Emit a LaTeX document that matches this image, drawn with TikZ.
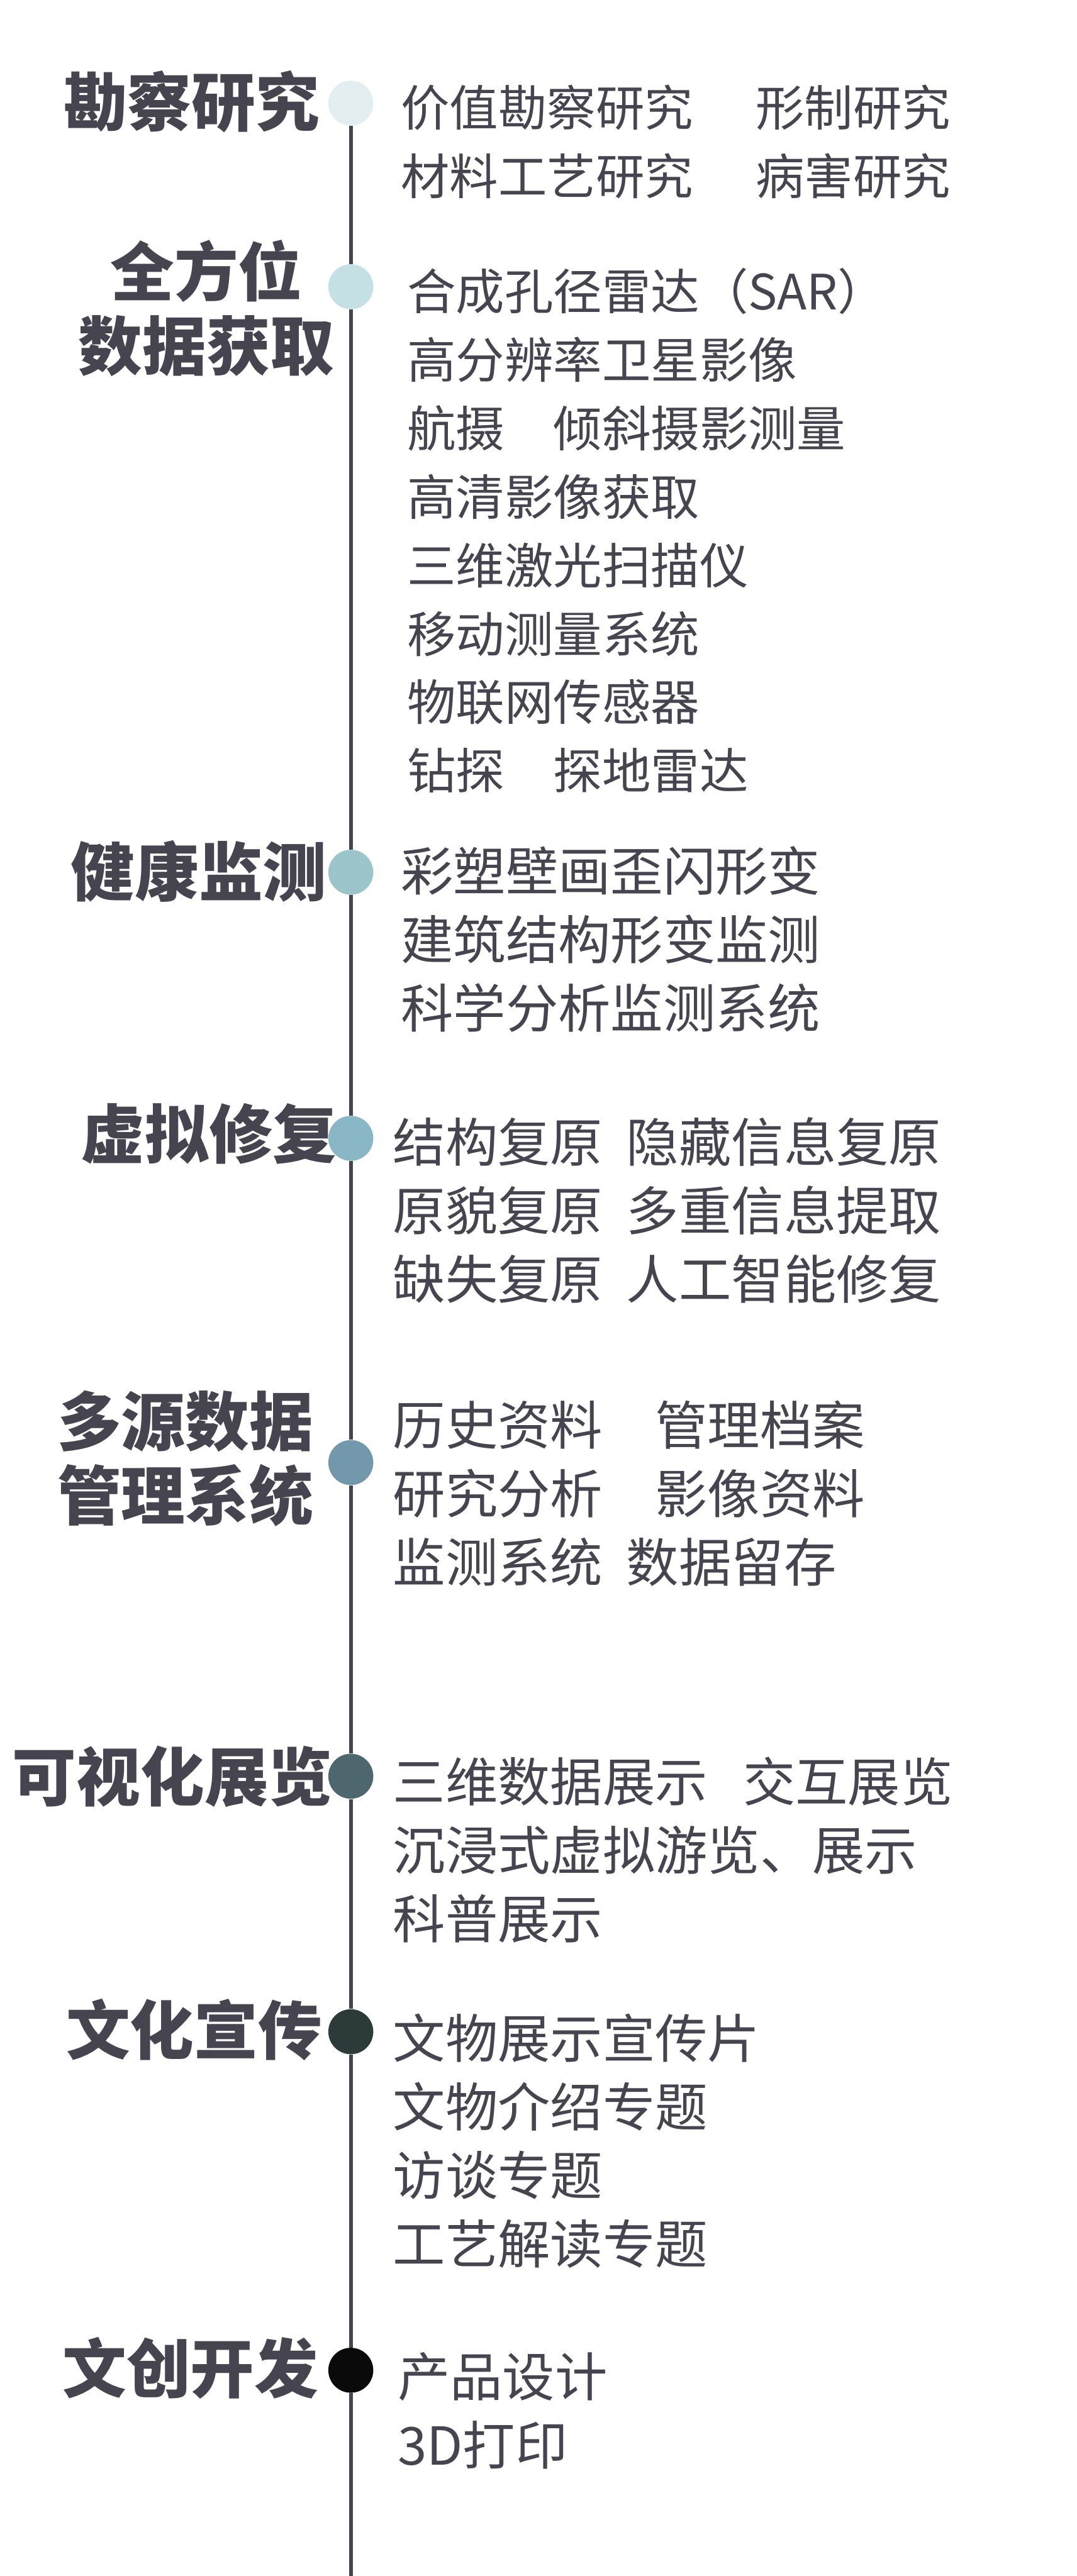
\documentclass[tikz,border=0pt]{standalone}
\usepackage{fontspec}
\setmainfont{Noto Sans CJK SC}
\usepackage{xcolor}
\definecolor{ink}{HTML}{46444F}
\definecolor{c1}{HTML}{E2EEF0}
\definecolor{c2}{HTML}{C5E0E4}
\definecolor{c3}{HTML}{9BC4CB}
\definecolor{c4}{HTML}{8AB7C6}
\definecolor{c5}{HTML}{7397AB}
\definecolor{c6}{HTML}{4E666E}
\definecolor{c7}{HTML}{2D3A3A}
\definecolor{c8}{HTML}{0A0A0A}
\tikzset{
    pt/.style={circle, inner sep=0pt, minimum size=0.85cm},
    axis/.style={draw=ink, line width=0.07cm},
    head/.style={inner sep=0pt, align=center, text=ink, font=\fontsize{34.4pt}{40pt}\selectfont\bfseries},
    item/.style={anchor=west, inner sep=0pt, align=left, text=ink, font=\fontsize{28.2pt}{36.85pt}\selectfont},
    itemsm/.style={item, font=\fontsize{26.2pt}{36.85pt}\selectfont}
}

\begin{document}
\begin{tikzpicture}
        \useasboundingbox (0,0) rectangle (20.35,-48.70);
        \node[pt, fill=c1] (d1) at (6.63,-1.95) {};
        \node[pt, fill=c2] (d2) at (6.63,-5.42) {};
        \node[pt, fill=c3] (d3) at (6.63,-16.49) {};
        \node[pt, fill=c4] (d4) at (6.63,-21.52) {};
        \node[pt, fill=c5] (d5) at (6.63,-27.65) {};
        \node[pt, fill=c6] (d6) at (6.63,-33.58) {};
        \node[pt, fill=c7] (d7) at (6.63,-38.41) {};
        \node[pt, fill=c8] (d8) at (6.63,-44.81) {};
        \coordinate (bot) at (6.63,-48.70);

        \draw[axis] (d1) -- (d2) (d2) -- (d3) (d3) -- (d4) (d4) -- (d5)
            (d5) -- (d6) (d6) -- (d7) (d7) -- (d8) (d8) -- (bot);

        \node[head] (h1) at (3.62,-1.92) {勘察研究};
        \node[head] (h2) at (3.90,-5.83) {全方位\\数据获取};
        \node[head] (h3) at (3.76,-16.47) {健康监测};
        \node[head] (h4) at (3.95,-21.44) {虚拟修复};
        \node[head] (h5) at (3.50,-27.57) {多源数据\\管理系统};
        \node[head] (h6) at (3.26,-33.59) {可视化展览};
        \node[head] (h7) at (3.67,-38.37) {文化宣传};
        \node[head] (h8) at (3.60,-44.77) {文创开发};

        \node[itemsm] (t1) at (7.57,-2.68) {价值勘察研究\hspace{1.18cm}形制研究\\材料工艺研究\hspace{1.18cm}病害研究};
        \node[itemsm] (t2) at (7.69,-10.03) {合成孔径雷达（SAR）\\高分辨率卫星影像\\航摄　倾斜摄影测量\\高清影像获取\\三维激光扫描仪\\移动测量系统\\物联网传感器\\钻探　探地雷达};
        \node[item] (t3) at (7.57,-17.76) {彩塑壁画歪闪形变\\建筑结构形变监测\\科学分析监测系统};
        \node[item] (t4) at (7.42,-22.88) {结构复原\hspace{0.45cm}隐藏信息复原\\原貌复原\hspace{0.45cm}多重信息提取\\缺失复原\hspace{0.45cm}人工智能修复};
        \node[item] (t5) at (7.42,-28.23) {历史资料　管理档案\\研究分析　影像资料\\监测系统\hspace{0.45cm}数据留存};
        \node[item] (t6) at (7.42,-34.97) {三维数据展示\hspace{0.67cm}交互展览\\沉浸式虚拟游览、展示\\科普展示};
        \node[item] (t7) at (7.42,-40.47) {文物展示宣传片\\文物介绍专题\\访谈专题\\工艺解读专题};
        \node[item] (t8) at (7.51,-45.58) {产品设计\\3D打印};
    \end{tikzpicture}
\end{document}
